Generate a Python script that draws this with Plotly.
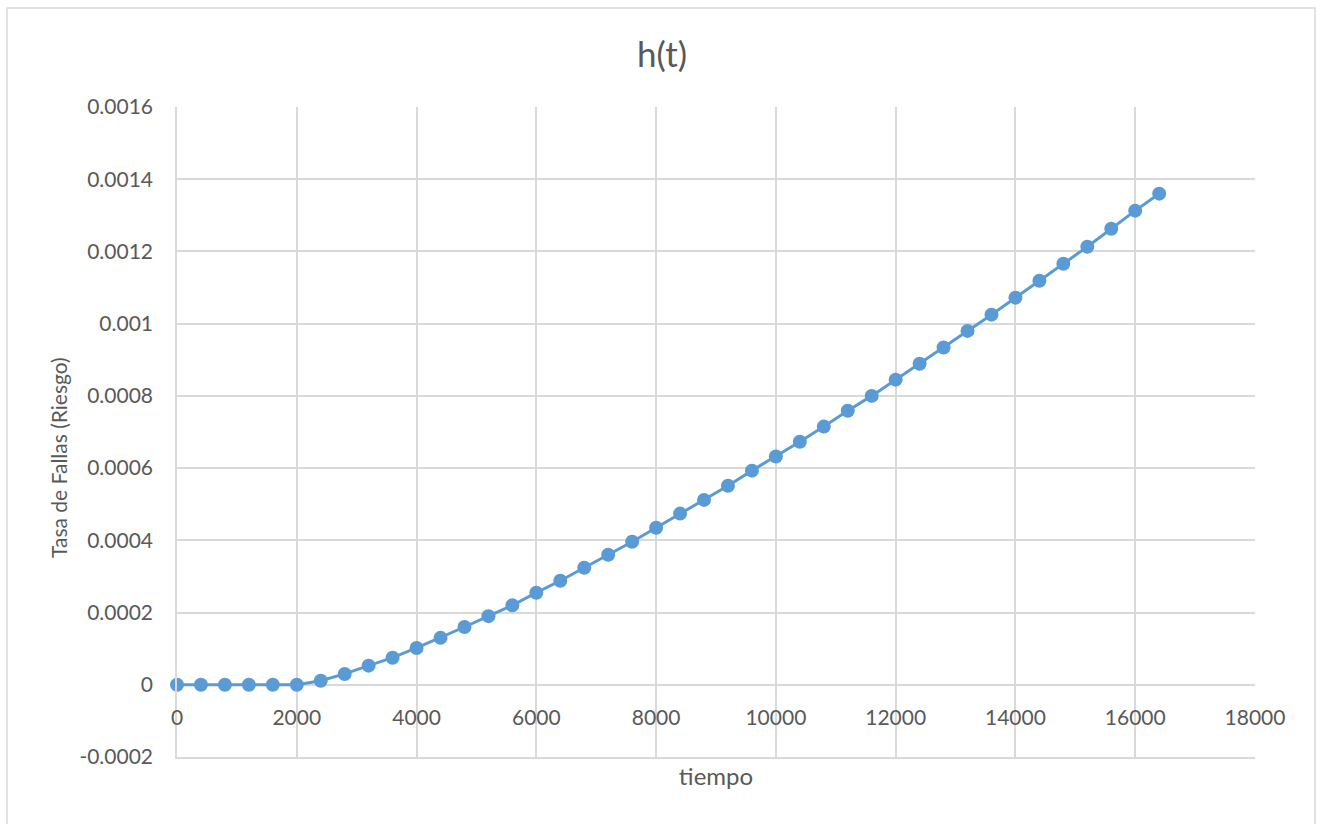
import plotly.graph_objects as go

tiempo = [0, 400, 800, 1200, 1600, 2000, 2400, 2800, 3200, 3600, 4000, 4400, 4800, 5200,
          5600, 6000, 6400, 6800, 7200, 7600, 8000, 8400, 8800, 9200, 9600, 10000, 10400,
          10800, 11200, 11600, 12000, 12400, 12800, 13200, 13600, 14000, 14400, 14800,
          15200, 15600, 16000, 16400]
h_t = [0, 0, 0, 0, 0, 0, 0.000011, 0.00003, 0.000053, 0.000075, 0.000102, 0.00013,
       0.00016, 0.00019, 0.00022, 0.000255, 0.000288, 0.000324, 0.00036, 0.000396,
       0.000435, 0.000474, 0.000512, 0.000551, 0.000593, 0.000632, 0.000673, 0.000715,
       0.000759, 0.0008, 0.000845, 0.000889, 0.000934, 0.00098, 0.001025, 0.001072,
       0.001119, 0.001166, 0.001213, 0.001263, 0.001313, 0.00136]

x_ticks = [0, 2000, 4000, 6000, 8000, 10000, 12000, 14000, 16000, 18000]
x_ticktext = ["0", "2000", "4000", "6000", "8000", "10000", "12000", "14000", "16000", "18000"]
y_ticks = [-0.0002, 0, 0.0002, 0.0004, 0.0006, 0.0008, 0.001, 0.0012, 0.0014, 0.0016]
y_ticktext = ["-0.0002", "0", "0.0002", "0.0004", "0.0006", "0.0008", "0.001", "0.0012", "0.0014", "0.0016"]

X_RANGE = [0, 18000]
Y_RANGE = [-0.0002, 0.0016]

FONT = "Lato, Carlito, Calibri, sans-serif"
TXT = "#595959"
GRID = "#d9d9d9"
BLUE = "#5B9BD5"

fig = go.Figure()
# invisible helper trace so the zero-crossing label axis is drawn
fig.add_trace(go.Scatter(
    x=tiempo, y=h_t, xaxis="x2", yaxis="y", mode="markers",
    marker=dict(opacity=0), hoverinfo="skip", showlegend=False,
))
fig.add_trace(go.Scatter(
    x=tiempo, y=h_t, xaxis="x", yaxis="y",
    mode="lines+markers",
    line=dict(color=BLUE, width=3),
    marker=dict(color=BLUE, size=14),
    showlegend=False, cliponaxis=False,
))

zero_pos = (0 - Y_RANGE[0]) / (Y_RANGE[1] - Y_RANGE[0])

fig.update_layout(
    width=1324, height=824,
    margin=dict(l=177, r=69, t=107, b=67),
    paper_bgcolor="white", plot_bgcolor="white",
    font=dict(family=FONT, color=TXT, size=21),
    title=dict(text="h(t)", x=0.5, xanchor="center", y=1 - 55 / 824, yanchor="middle",
               font=dict(size=35, color=TXT, family=FONT)),
    xaxis=dict(
        range=X_RANGE, tickvals=x_ticks, showticklabels=False,
        showgrid=True, gridcolor=GRID, gridwidth=1.5, zeroline=False,
        showline=True, linecolor=GRID, linewidth=1.5, mirror=False,
        ticks="",
        title=dict(text="tiempo", font=dict(size=24, color=TXT, family=FONT), standoff=10),
    ),
    xaxis2=dict(
        range=X_RANGE, overlaying="x", anchor="free", position=zero_pos, side="bottom",
        tickvals=x_ticks, ticktext=x_ticktext, showgrid=False, zeroline=False,
        showline=False, ticks="", ticklabelstandoff=18,
        tickfont=dict(size=21, color=TXT, family=FONT),
    ),
    yaxis=dict(
        range=Y_RANGE, tickvals=y_ticks, ticktext=y_ticktext,
        showgrid=True, gridcolor=GRID, gridwidth=1.5,
        zeroline=True, zerolinecolor=GRID, zerolinewidth=1.5,
        showline=True, linecolor=GRID, linewidth=1.5, ticks="", ticklabelstandoff=18,
        tickfont=dict(size=21, color=TXT, family=FONT),
    ),
    annotations=[dict(
        text="Tasa de Fallas (Riesgo)", textangle=-90, showarrow=False,
        xref="paper", yref="paper", x=(58 - 177) / 1078, y=(757 - 458) / 650,
        xanchor="center", yanchor="middle",
        font=dict(size=21, color=TXT, family=FONT),
    )],
    shapes=[dict(
        type="rect", xref="paper", yref="paper",
        x0=(7 - 177) / 1078, x1=(1315 - 177) / 1078,
        y0=(757 - 830) / 650, y1=(757 - 8) / 650,
        line=dict(color=GRID, width=1.5), fillcolor="rgba(0,0,0,0)", layer="below",
    )],
)

fig.write_html("out.html")
